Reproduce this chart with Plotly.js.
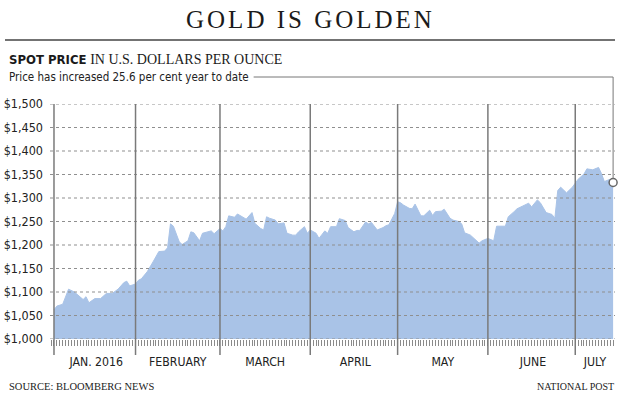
<!DOCTYPE html>
<html>
<head>
<meta charset="utf-8">
<script src="https://cdn.plot.ly/plotly-3.0.1.min.js"></script>
<style>html,body{margin:0;padding:0;background:#fff;}#chart{width:620px;height:401px;}</style>
</head>
<body>
<div id="chart"></div>
<script>
// ---- data ----
const dates = [
 '2016-01-04','2016-01-05','2016-01-07','2016-01-09','2016-01-11','2016-01-14','2016-01-15','2016-01-16','2016-01-18','2016-01-20','2016-01-22','2016-01-24','2016-01-26','2016-01-28','2016-01-29','2016-01-30',
 '2016-02-01','2016-02-02','2016-02-03','2016-02-05','2016-02-07','2016-02-09','2016-02-11','2016-02-12','2016-02-13','2016-02-14','2016-02-16','2016-02-17','2016-02-19','2016-02-20','2016-02-21','2016-02-23','2016-02-24','2016-02-25','2016-02-27','2016-02-28',
 '2016-03-01','2016-03-02','2016-03-03','2016-03-04','2016-03-06','2016-03-07','2016-03-08','2016-03-10','2016-03-12','2016-03-13','2016-03-15','2016-03-16','2016-03-17','2016-03-18','2016-03-20','2016-03-21','2016-03-23','2016-03-24','2016-03-26','2016-03-27','2016-03-28','2016-03-30','2016-03-31',
 '2016-04-01','2016-04-03','2016-04-04','2016-04-06','2016-04-07','2016-04-08','2016-04-10','2016-04-11','2016-04-13','2016-04-14','2016-04-16','2016-04-17','2016-04-18','2016-04-20','2016-04-21','2016-04-22','2016-04-24','2016-04-26','2016-04-27','2016-04-28','2016-04-30',
 '2016-05-01','2016-05-02','2016-05-03','2016-05-05','2016-05-06','2016-05-07','2016-05-09','2016-05-10','2016-05-12','2016-05-13','2016-05-14','2016-05-16','2016-05-17','2016-05-19','2016-05-20','2016-05-22','2016-05-23','2016-05-24','2016-05-26','2016-05-27','2016-05-29','2016-05-30',
 '2016-06-01','2016-06-03','2016-06-04','2016-06-07','2016-06-08','2016-06-10','2016-06-11','2016-06-13','2016-06-15','2016-06-16','2016-06-18','2016-06-19','2016-06-21','2016-06-23','2016-06-24','2016-06-25','2016-06-26','2016-06-28','2016-06-29','2016-06-30',
 '2016-07-02','2016-07-04','2016-07-05','2016-07-07','2016-07-09','2016-07-10','2016-07-11','2016-07-13','2016-07-14'
];
const prices = [
 1062,1070,1074,1106,1100,1084,1090,1077,1086,1086,1097,1097,1106,1120,1123,1113,
 1117,1125,1128,1143,1164,1186,1187,1194,1245,1240,1207,1201,1209,1228,1226,1209,1225,1227,1230,1224,
 1235,1230,1239,1262,1259,1266,1262,1255,1269,1246,1235,1232,1260,1257,1253,1245,1247,1225,1221,1221,1228,1239,1225,
 1232,1225,1214,1230,1225,1239,1239,1256,1252,1237,1228,1231,1231,1249,1245,1248,1232,1237,1241,1243,1267,
 1292,1290,1285,1278,1277,1287,1262,1262,1274,1263,1271,1272,1276,1257,1253,1250,1245,1226,1221,1216,1204,1209,
 1214,1209,1240,1240,1260,1271,1277,1283,1289,1281,1296,1290,1269,1265,1257,1316,1323,1311,1318,1323,
 1340,1351,1362,1360,1365,1352,1335,1340,1333
];
const yTicks = [1000,1050,1100,1150,1200,1250,1300,1350,1400,1450,1500];
const yTickLabels = ['$1,000','$1,050','$1,100','$1,150','$1,200','$1,250','$1,300','$1,350','$1,400','$1,450','$1,500'];
const monthStarts = ['2016-01-04','2016-02-01','2016-03-01','2016-04-01','2016-05-01','2016-06-01','2016-07-01'];
const monthLabels = ['JAN. 2016','FEBRUARY','MARCH','APRIL','MAY','JUNE','JULY'];
const monthLabelDates = ['2016-01-18 12:00','2016-02-15 12:00','2016-03-16 12:00','2016-04-16 12:00','2016-05-16 12:00','2016-06-16 12:00','2016-07-07 18:00'];

// ---- layout helpers (pixel -> paper) ----
const W = 620, H = 401, L = 50, R = 5, T = 104, B = 62;
const PW = W - L - R, PH = H - T - B;
const px = x => (x - L) / PW;
const py = y => (H - B - y) / PH;
const xRange = ['2016-01-02 15:07', '2016-07-14 15:36'];
const r0 = new Date('2016-01-02T15:07:00Z').getTime(), r1 = new Date('2016-07-14T15:36:00Z').getTime();
const dPaper = d => (new Date(d + 'T00:00:00Z').getTime() - r0) / (r1 - r0);

const NARROW = '"Liberation Sans Narrow", "DejaVu Sans Condensed", "Arial Narrow", "Liberation Sans", sans-serif';
const SERIF = '"Liberation Serif", "DejaVu Serif", serif';
const FILL = '#a9c3e7';

const lastDate = dates[dates.length - 1], lastVal = prices[prices.length - 1];
const yMin = yTicks[0], yMax = yTicks[yTicks.length - 1];

const shapes = [];
// dotted horizontal gridlines, above the fill
yTicks.forEach(v => shapes.push({type:'line', xref:'paper', yref:'y', x0:0, x1:1, y0:v, y1:v,
  line:{color:'#8f8f8f', width:1, dash:'dot'}, layer:'above'}));
// month separators
monthStarts.forEach(d => shapes.push({type:'line', xref:'x', yref:'paper', x0:d, x1:d, y0:py(355), y1:1,
  line:{color:'#7a7a7a', width:1.5}, layer:'above'}));
// rule under title
shapes.push({type:'line', xref:'paper', yref:'paper', x0:px(5), x1:px(615), y0:py(40), y1:py(40), line:{color:'#444', width:1.5}});
// annotation leader line
const leadIdx = shapes.length;
shapes.push({type:'line', xref:'paper', yref:'paper', x0:px(252), x1:dPaper(lastDate), y0:py(77), y1:py(77), line:{color:'#777', width:1}});
shapes.push({type:'line', xref:'paper', yref:'paper', x0:dPaper(lastDate), x1:dPaper(lastDate), y0:(lastVal - yMin)/(yMax - yMin) + 4/PH, y1:py(77), line:{color:'#777', width:1}});

const data = [
  {type:'scatter', mode:'lines', x:dates, y:prices, fill:'tozeroy', fillcolor:FILL,
   line:{color:FILL, width:1}, hoverinfo:'skip'},
  {type:'scatter', mode:'markers', x:[lastDate], y:[lastVal], cliponaxis:false,
   marker:{size:8, color:'#ffffff', line:{color:'#666', width:1.5}}, hoverinfo:'skip'}
];

const layout = {
  width:W, height:H, margin:{l:L, r:R, t:T, b:B, pad:0},
  paper_bgcolor:'#fff', plot_bgcolor:'#fff', showlegend:false,
  xaxis:{type:'date', range:xRange, tickmode:'array', tickvals:monthLabelDates, ticktext:monthLabels,
    ticks:'', showgrid:false, zeroline:false, showline:false, fixedrange:true,
    tickfont:{family:NARROW, size:12.2, color:'#222'}, ticklabelstandoff:14,
    minor:{ticks:'outside', ticklen:6, tickwidth:1, tickcolor:'#8a8a8a', dtick:86400000, tick0:'2016-01-01', showgrid:false}},
  yaxis:{range:[yMin, yMax], tickmode:'array', tickvals:yTicks, ticktext:yTickLabels,
    ticks:'', showgrid:false, zeroline:false, showline:false, fixedrange:true,
    tickfont:{family:NARROW, size:12.5, color:'#222'}, ticklabelstandoff:6},
  shapes:shapes,
  annotations:[
    {xref:'paper', yref:'paper', x:px(310), y:py(20), xanchor:'center', yanchor:'middle', showarrow:false,
     text:'<span style="letter-spacing:3px">GOLD IS GOLDEN</span>', font:{family:SERIF, size:25, color:'#1a1a1a'}},
    {xref:'paper', yref:'paper', x:px(7), y:py(59), xanchor:'left', yanchor:'middle', showarrow:false,
     text:'<b>SPOT PRICE</b> <span style="font-family:Liberation Serif;font-size:14px">IN U.S. DOLLARS PER OUNCE</span>',
     font:{family:NARROW, size:13, color:'#1a1a1a'}},
    {xref:'paper', yref:'paper', x:px(7), y:py(77), xanchor:'left', yanchor:'middle', showarrow:false,
     text:'Price has increased 25.6 per cent year to date', font:{family:NARROW, size:11.5, color:'#222'}},
    {xref:'paper', yref:'paper', x:px(7), y:py(386), xanchor:'left', yanchor:'middle', showarrow:false,
     text:'SOURCE: BLOOMBERG NEWS', font:{family:SERIF, size:10.5, color:'#222'}},
    {xref:'paper', yref:'paper', x:px(616), y:py(386), xanchor:'right', yanchor:'middle', showarrow:false,
     text:'NATIONAL POST', font:{family:SERIF, size:10, color:'#222'}}
  ]
};

Plotly.newPlot('chart', data, layout, {staticPlot:true, displayModeBar:false}).then(gd => {
  const ann = gd.querySelectorAll('.annotation')[2];
  if (ann) {
    const t = ann.querySelector('text');
    const bb = t.getBoundingClientRect();
    const gb = gd.getBoundingClientRect();
    const right = bb.right - gb.left;
    const upd = {};
    upd['shapes[' + leadIdx + '].x0'] = px(right + 5);
    Plotly.relayout(gd, upd);
  }
});
</script>
</body>
</html>
